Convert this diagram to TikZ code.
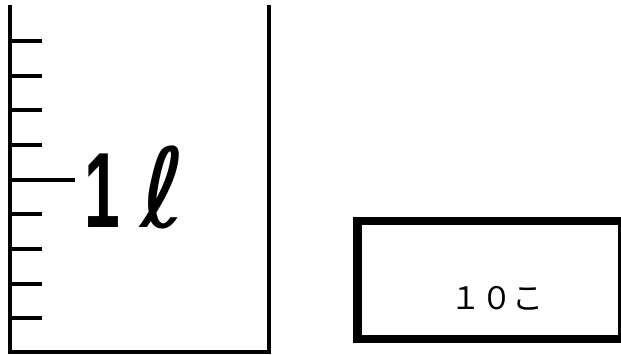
\documentclass[tikz,border=0pt]{standalone}
\usepackage{fontspec}
\usepackage{tikz}
\usetikzlibrary{positioning,calc}
\newfontfamily\cjk{Noto Sans CJK JP}
\newfontfamily\numfont{Liberation Sans}
\newfontfamily\ellfont{DejaVu Sans}
\tikzset{wall/.style={draw, line width=4pt, line join=miter},
         tick/.style={draw, line width=4pt},
         countbox/.style={draw, line width=8.5pt, minimum width=265pt, minimum height=118pt, inner sep=0pt}}

\begin{document}
\begin{tikzpicture}[x=1pt, y=-1pt]

            % Picture frame
            \useasboundingbox (0,0) rectangle (621,354);

            % Beaker walls
            \coordinate (topleft) at (9.5,5);
            \coordinate (botleft) at (9.5,351.5);
            \coordinate (botright) at (269,351.5);
            \coordinate (topright) at (269,5);
            \draw[wall] (topleft) -- (botleft) -- (botright) -- (topright);

            % Scale marks
            \foreach \y in {40.7,76,110.3,145.3,214.3,248.7,283.7,318} {
                \draw[tick] (9.5,\y) -- (42,\y);
            }
            \draw[tick] (9.5,180) -- (75,180);

            % Volume label
            \node[inner sep=0pt, anchor=base, xscale=0.6] (one) at (102,227) {\numfont\bfseries\fontsize{107}{107}\selectfont 1};
            \node[inner sep=0pt, anchor=base] (ell) at (163,227) {\ellfont\fontsize{110}{110}\selectfont ℓ};

            % Count box
            \node[countbox] (box) at (490,280) {};
            \node[inner sep=0pt] (count) at (497,298) {\cjk\fontsize{31}{31}\selectfont １０こ};

\end{tikzpicture}
\end{document}
